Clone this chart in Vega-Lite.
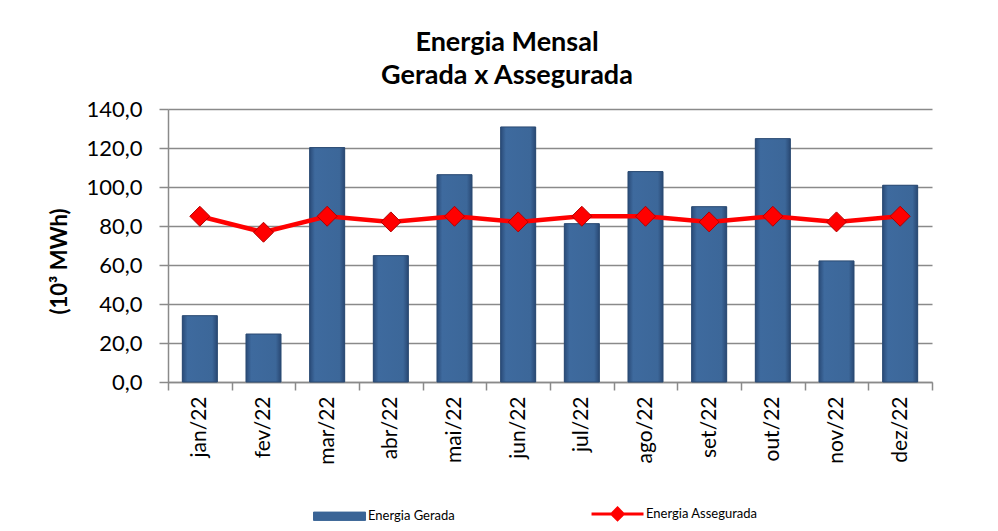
{
  "$schema": "https://vega.github.io/schema/vega-lite/v6.json",
  "width": 764,
  "height": 273,
  "autosize": {"type": "none"},
  "padding": {"left": 168, "top": 109, "right": 66, "bottom": 149},
  "background": "white",
  "title": {
    "text": ["Energia Mensal", "Gerada x Assegurada"],
    "font": "Lato",
    "fontSize": 27,
    "fontWeight": "bold",
    "color": "black",
    "lineHeight": 33,
    "anchor": "middle",
    "frame": "group",
    "dx": -43,
    "offset": 8
  },
  "data": {
    "values": [
      {"mes": "jan/22", "serie": "Energia Gerada", "valor": 34.0},
      {"mes": "fev/22", "serie": "Energia Gerada", "valor": 24.6},
      {"mes": "mar/22", "serie": "Energia Gerada", "valor": 120.2},
      {"mes": "abr/22", "serie": "Energia Gerada", "valor": 64.8},
      {"mes": "mai/22", "serie": "Energia Gerada", "valor": 106.3},
      {"mes": "jun/22", "serie": "Energia Gerada", "valor": 130.8},
      {"mes": "jul/22", "serie": "Energia Gerada", "valor": 81.2},
      {"mes": "ago/22", "serie": "Energia Gerada", "valor": 107.9},
      {"mes": "set/22", "serie": "Energia Gerada", "valor": 89.9},
      {"mes": "out/22", "serie": "Energia Gerada", "valor": 124.8},
      {"mes": "nov/22", "serie": "Energia Gerada", "valor": 62.1},
      {"mes": "dez/22", "serie": "Energia Gerada", "valor": 100.9},
      {"mes": "jan/22", "serie": "Energia Assegurada", "valor": 85.0},
      {"mes": "fev/22", "serie": "Energia Assegurada", "valor": 76.8},
      {"mes": "mar/22", "serie": "Energia Assegurada", "valor": 85.0},
      {"mes": "abr/22", "serie": "Energia Assegurada", "valor": 82.1},
      {"mes": "mai/22", "serie": "Energia Assegurada", "valor": 85.0},
      {"mes": "jun/22", "serie": "Energia Assegurada", "valor": 82.1},
      {"mes": "jul/22", "serie": "Energia Assegurada", "valor": 85.0},
      {"mes": "ago/22", "serie": "Energia Assegurada", "valor": 85.0},
      {"mes": "set/22", "serie": "Energia Assegurada", "valor": 82.1},
      {"mes": "out/22", "serie": "Energia Assegurada", "valor": 85.0},
      {"mes": "nov/22", "serie": "Energia Assegurada", "valor": 82.1},
      {"mes": "dez/22", "serie": "Energia Assegurada", "valor": 85.0}
    ]
  },
  "encoding": {
    "x": {
      "field": "mes",
      "type": "nominal",
      "sort": ["jan/22", "fev/22", "mar/22", "abr/22", "mai/22", "jun/22", "jul/22", "ago/22", "set/22", "out/22", "nov/22", "dez/22"],
      "scale": {"paddingInner": 0, "paddingOuter": 0},
      "axis": {
        "title": null,
        "labelAngle": -90,
        "labelFontSize": 21,
        "labelColor": "black",
        "labelPadding": 6,
        "tickBand": "extent",
        "domainColor": "#8a8a8a",
        "domainWidth": 1.5,
        "tickColor": "#8a8a8a",
        "tickWidth": 1.5,
        "tickSize": 8,
        "grid": false
      }
    },
    "y": {
      "field": "valor",
      "type": "quantitative",
      "scale": {"domain": [0, 140], "nice": false},
      "axis": {
        "title": "(10³ MWh)",
        "titleFontSize": 22,
        "titleFontWeight": "bold",
        "titleColor": "black",
        "titlePadding": 14,
        "titleY": 152,
        "values": [0, 20, 40, 60, 80, 100, 120, 140],
        "format": ".1f",
        "labelFontSize": 22,
        "labelColor": "black",
        "labelPadding": 17,
        "tickSize": 9,
        "tickColor": "#8a8a8a",
        "tickWidth": 1.5,
        "domainColor": "#8a8a8a",
        "domainWidth": 1.5,
        "grid": true,
        "gridColor": "#8a8a8a",
        "gridWidth": 1.5
      }
    }
  },
  "layer": [
    {
      "transform": [{"filter": "datum.serie === 'Energia Gerada'"}],
      "mark": {"type": "bar", "width": {"band": 0.55}},
      "encoding": {
        "color": {
          "field": "serie",
          "type": "nominal",
          "scale": {"domain": ["Energia Gerada", "Energia Assegurada"], "range": ["#3A6496", "#FF0000"]},
          "legend": {
            "orient": "none",
            "legendX": 145,
            "legendY": 398,
            "direction": "horizontal",
            "title": null,
            "labelFont": "Lato",
            "labelFontSize": 13,
            "labelColor": "black",
            "symbolSize": 2704,
            "labelOffset": 42,
            "columnPadding": 130,
            "encode": {
              "symbols": {
                "update": {
                  "shape": {"signal": "datum.value === 'Energia Gerada' ? 'M-0.23,-0.16H1.77V0.16H-0.23Z' : 'M-0.23,0H1.77M0.77,-0.22L0.99,0L0.77,0.22L0.55,0Z'"},
                  "fill": {"signal": "datum.value === 'Energia Gerada' ? '#3A6496' : '#FF0000'"},
                  "stroke": {"signal": "datum.value === 'Energia Gerada' ? '#2B4A72' : '#FF0000'"},
                  "strokeWidth": {"signal": "datum.value === 'Energia Gerada' ? 1 : 3"},
                  "opacity": {"value": 1},
                  "fillOpacity": {"value": 1}
                }
              }
            }
          }
        }
      }
    },
    {
      "transform": [{"filter": "datum.serie === 'Energia Gerada'"}],
      "mark": {
        "type": "bar",
        "width": {"band": 0.55},
        "fill": {
          "gradient": "linear",
          "x1": 0, "y1": 0, "x2": 1, "y2": 0,
          "stops": [
            {"offset": 0, "color": "#2A4B78"},
            {"offset": 0.15, "color": "#3E6A9E"},
            {"offset": 0.85, "color": "#3C6799"},
            {"offset": 1, "color": "#294873"}
          ]
        },
        "stroke": "#2B4A72",
        "strokeWidth": 1
      }
    },
    {
      "transform": [{"filter": "datum.serie === 'Energia Assegurada'"}],
      "mark": {"type": "line", "strokeWidth": 4.5},
      "encoding": {
        "color": {"field": "serie", "type": "nominal"}
      }
    },
    {
      "transform": [{"filter": "datum.serie === 'Energia Assegurada'"}],
      "mark": {"type": "point", "shape": "diamond", "size": 400, "filled": true, "fill": "#FF0000", "stroke": "#B00000", "strokeWidth": 1, "opacity": 1}
    }
  ],
  "config": {
    "view": {"stroke": null},
    "font": "Lato",
    "locale": {
      "number": {"decimal": ",", "thousands": ".", "grouping": [3], "currency": ["R$", ""]}
    }
  }
}
